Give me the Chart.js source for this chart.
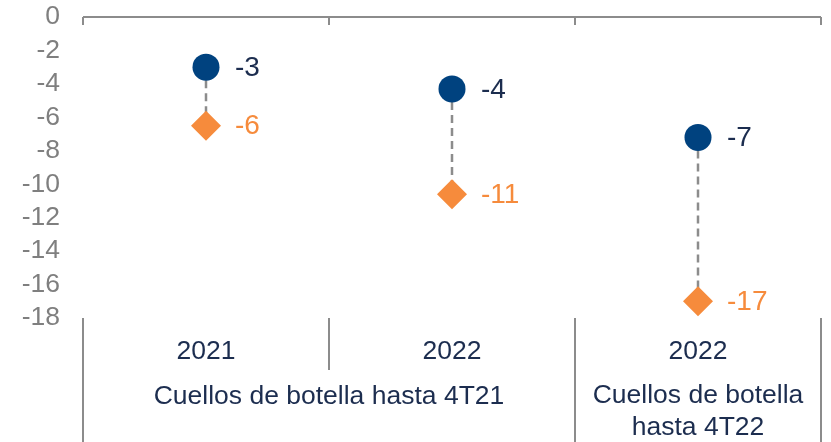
<!DOCTYPE html>
<html>
<head>
<meta charset="utf-8">
<script src="https://cdn.jsdelivr.net/npm/chart.js@4"></script>
<style>
  html, body { margin: 0; padding: 0; background: #fff; overflow: hidden; }
  #wrap { width: 831px; height: 442px; position: relative; }
</style>
</head>
<body>
<div id="wrap"><canvas id="chart"></canvas></div>
<script>
// Data
const categories = ['2021', '2022', '2022'];
const groups = [
    { label: ['Cuellos de botella hasta 4T21'], from: 0, to: 1 },
    { label: ['Cuellos de botella', 'hasta 4T22'], from: 2, to: 2 }
];
const circleValues = [-3.0, -4.3, -7.2];
const diamondValues = [-6.5, -10.6, -17.0];
const yTicks = [0, -2, -4, -6, -8, -10, -12, -14, -16, -18];

const NAVY = '#00427f';
const ORANGE = '#f68b3c';
const TEXT = '#1c2d4f';
const GREY = '#8c8c8c';
const FONT = "'Liberation Sans', Arial, sans-serif";

// dashed connector between the two markers of each category
const connectorPlugin = {
    id: 'connector',
    beforeDatasetsDraw(chart) {
        const a = chart.getDatasetMeta(0).data;
        const b = chart.getDatasetMeta(1).data;
        const ctx = chart.ctx;
        ctx.save();
        ctx.strokeStyle = GREY;
        ctx.lineWidth = 2.5;
        ctx.setLineDash([8, 5]);
        a.forEach((p, i) => {
            ctx.beginPath();
            ctx.moveTo(p.x, p.y);
            ctx.lineTo(b[i].x, b[i].y);
            ctx.stroke();
        });
        ctx.restore();
    }
};

// value labels, top axis line and the bottom category separators / group labels
const decorPlugin = {
    id: 'decor',
    afterDraw(chart) {
        const ctx = chart.ctx;
        const x = chart.scales.x;
        const area = chart.chartArea;
        const step = x.getPixelForValue(1) - x.getPixelForValue(0);
        const edge = i => x.getPixelForValue(i) - step / 2;

        ctx.save();
        // value labels
        ctx.font = '28px ' + FONT;
        ctx.textAlign = 'left';
        ctx.textBaseline = 'middle';
        [[0, TEXT], [1, ORANGE]].forEach(([di, color]) => {
            const ds = chart.data.datasets[di];
            ctx.fillStyle = color;
            chart.getDatasetMeta(di).data.forEach((p, i) => {
                ctx.fillText(String(Math.round(ds.data[i])), p.x + 29, p.y + 1);
            });
        });

        // top axis with short ticks at category boundaries
        ctx.strokeStyle = GREY;
        ctx.lineWidth = 2;
        ctx.setLineDash([]);
        ctx.beginPath();
        ctx.moveTo(area.left, area.top);
        ctx.lineTo(area.right, area.top);
        for (let i = 0; i <= categories.length; i++) {
            const px = Math.round(edge(i));
            ctx.moveTo(px, area.top);
            ctx.lineTo(px, area.top + 8);
        }
        ctx.stroke();

        // bottom separators
        const bottom = chart.height;
        ctx.beginPath();
        for (let i = 0; i <= categories.length; i++) {
            const px = Math.round(edge(i));
            const isGroupEdge = i === 0 || i === categories.length || groups.some(g => g.from === i);
            ctx.moveTo(px, area.bottom);
            ctx.lineTo(px, isGroupEdge ? bottom : area.bottom + 52);
        }
        ctx.stroke();

        // group labels
        ctx.fillStyle = TEXT;
        ctx.textAlign = 'center';
        ctx.font = '26.5px ' + FONT;
        groups.forEach(g => {
            const cx = (edge(g.from) + edge(g.to + 1)) / 2;
            const startY = g.label.length > 1 ? area.bottom + 78 : area.bottom + 79;
            g.label.forEach((line, li) => {
                ctx.fillText(line, cx, startY + li * 32);
            });
        });
        ctx.restore();
    }
};

new Chart(document.getElementById('chart'), {
    type: 'line',
    data: {
        labels: categories,
        datasets: [
            {
                label: 'circle',
                data: circleValues,
                showLine: false,
                pointStyle: 'circle',
                pointRadius: 13.5,
                pointHoverRadius: 13.5,
                backgroundColor: NAVY,
                borderColor: NAVY,
                borderWidth: 0
            },
            {
                label: 'diamond',
                data: diamondValues,
                showLine: false,
                pointStyle: 'rectRot',
                pointRadius: 15,
                pointHoverRadius: 15,
                backgroundColor: ORANGE,
                borderColor: ORANGE,
                borderWidth: 0
            }
        ]
    },
    options: {
        responsive: true,
        maintainAspectRatio: false,
        animation: false,
        layout: { autoPadding: false, padding: { top: 17, right: 10, left: 0, bottom: 0 } },
        plugins: {
            legend: { display: false },
            tooltip: { enabled: false }
        },
        scales: {
            x: {
                type: 'category',
                offset: true,
                grid: { display: false, drawTicks: false },
                border: { display: false },
                ticks: {
                    color: TEXT,
                    font: { family: FONT, size: 26.5 },
                    padding: 18,
                    maxRotation: 0,
                    autoSkip: false
                },
                afterFit: s => { s.height = 124; }
            },
            y: {
                min: -18,
                max: 0,
                afterBuildTicks: s => { s.ticks = yTicks.map(v => ({ value: v })); },
                // label gap comes from the (hidden) tick length so it does not pad the top
                grid: { display: false, drawTicks: true, tickLength: 23 },
                border: { display: false },
                ticks: {
                    color: '#7f7f7f',
                    font: { family: FONT, size: 26.5 },
                    padding: 0,
                    autoSkip: false
                },
                afterFit: s => { s.width = 83; }
            }
        }
    },
    plugins: [connectorPlugin, decorPlugin]
});
</script>
</body>
</html>
